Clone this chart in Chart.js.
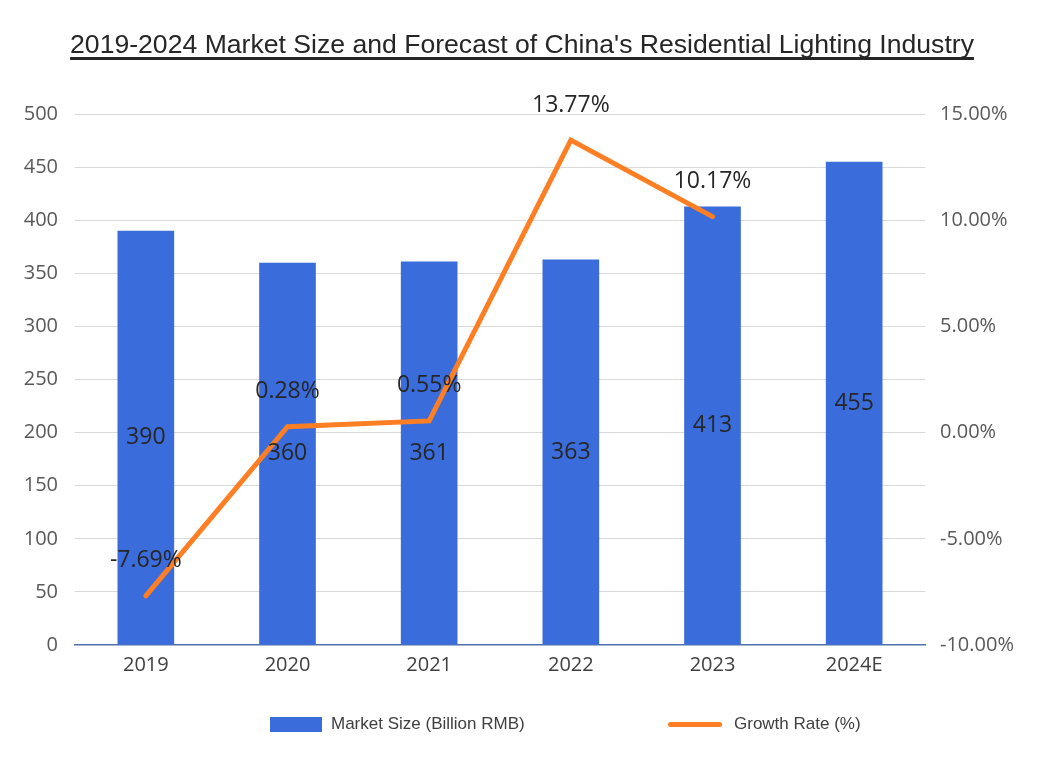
<!DOCTYPE html>
<html>
<head>
<meta charset="utf-8">
<script src="https://cdn.jsdelivr.net/npm/chart.js@4"></script>
<style>
  body { margin: 0; background: #fff; }
  #wrap { position: relative; width: 1044px; height: 760px; overflow: hidden; }
  #title {
    position: absolute; top: 29px; left: 0; width: 1044px; text-align: center;
    font: 26.6px/30px "Liberation Sans", Arial, sans-serif; color: #262626;
    text-decoration: underline; text-decoration-thickness: 2.5px; text-underline-offset: 4px;
    text-decoration-skip-ink: none;
  }
  canvas { position: absolute; top: 0; left: 0; }
  .lg { position: absolute; font: 17px/20px "Liberation Sans", Arial, sans-serif; color: #404040; }
</style>
</head>
<body>
<div id="wrap">
  <canvas id="chart" width="1044" height="760"></canvas>
  <div id="title">2019-2024 Market Size and Forecast of China's Residential Lighting Industry</div>
  <div class="lg" style="left:270px;top:717px;width:52px;height:15px;background:#3a6ddb"></div>
  <div class="lg" style="left:331px;top:714px">Market Size (Billion RMB)</div>
  <div class="lg" style="left:668px;top:722px;width:54px;height:5px;border-radius:3px;background:#fd7e23"></div>
  <div class="lg" style="left:734px;top:714px">Growth Rate (%)</div>
</div>
<script>
// chart data
const years = ['2019', '2020', '2021', '2022', '2023', '2024E'];
const marketSize = [390, 360, 361, 363, 413, 455];
const growthRate = [-7.69, 0.28, 0.55, 13.77, 10.17, null];

const barColor = '#3a6ddb';
const lineColor = '#fd7e23';
const tickFont = { family: 'Open Sans', size: 20 };

// draws the value labels on bars and above line points
const valueLabels = {
  id: 'valueLabels',
  afterDatasetsDraw(chart) {
    const ctx = chart.ctx;
    ctx.save();
    ctx.font = '23px "Open Sans"';
    ctx.fillStyle = '#262626';
    ctx.textAlign = 'center';
    ctx.textBaseline = 'middle';
    chart.getDatasetMeta(0).data.forEach((el, i) => {
      ctx.fillText(marketSize[i], el.x, (el.y + el.base) / 2);
    });
    chart.getDatasetMeta(1).data.forEach((el, i) => {
      if (growthRate[i] == null) return;
      ctx.fillText(growthRate[i].toFixed(2) + '%', el.x, el.y - 35);
    });
    ctx.restore();
  }
};

new Chart(document.getElementById('chart'), {
  data: {
    labels: years,
    datasets: [
      {
        type: 'bar', label: 'Market Size (Billion RMB)', data: marketSize,
        backgroundColor: barColor, yAxisID: 'y', order: 2,
        barPercentage: 0.4, categoryPercentage: 1
      },
      {
        type: 'line', label: 'Growth Rate (%)', data: growthRate,
        borderColor: lineColor, borderWidth: 5, pointRadius: 0, tension: 0,
        yAxisID: 'y1', order: 1, borderCapStyle: 'round', borderJoinStyle: 'miter'
      }
    ]
  },
  options: {
    responsive: false,
    animation: false,
    layout: { padding: { top: 114, left: 0, right: 0, bottom: 0 } },
    plugins: { legend: { display: false }, tooltip: { enabled: false } },
    scales: {
      x: {
        grid: { display: false, drawTicks: false },
        border: { color: '#4f6fae', width: 1.5 },
        ticks: { font: tickFont, color: '#404040', padding: 8 },
        afterFit: s => { s.height = 115; }
      },
      y: {
        position: 'left', min: 0, max: 500,
        ticks: { stepSize: 50, font: tickFont, color: '#595959', padding: 17 },
        grid: { color: c => c.tick.value === 0 ? 'rgba(0,0,0,0)' : '#d9d9d9', drawTicks: false },
        border: { display: false },
        afterFit: s => { s.width = 75; }
      },
      y1: {
        position: 'right', min: -10, max: 15,
        ticks: { stepSize: 5, font: tickFont, color: '#595959', padding: 15, callback: v => v.toFixed(2) + '%' },
        grid: { display: false, drawTicks: false },
        border: { display: false },
        afterFit: s => { s.width = 119; }
      }
    }
  },
  plugins: [valueLabels]
});
</script>
</body>
</html>
